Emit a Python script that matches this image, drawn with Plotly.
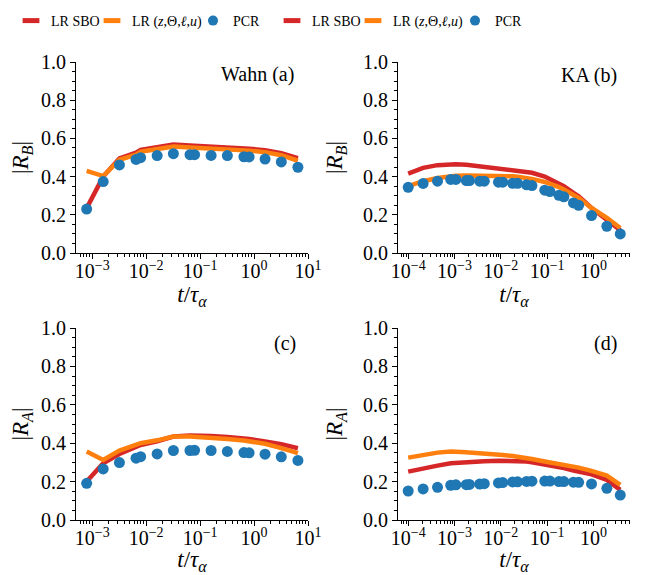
import plotly.graph_objects as go

# ---------------- data ----------------
t_wahn = [0.00079, 0.0016, 0.0032, 0.0065, 0.0079, 0.016, 0.032, 0.065, 0.079,
          0.16, 0.32, 0.65, 0.81, 1.6, 3.2, 6.5]
t_ka = [1.0e-4, 2.1e-4, 4.3e-4, 8.3e-4, 1.07e-3, 1.8e-3, 2.1e-3, 3.5e-3, 4.4e-3,
        8.9e-3, 1.1e-2, 1.8e-2, 2.3e-2, 3.6e-2, 4.7e-2, 8.9e-2, 0.115, 0.18, 0.23,
        0.37, 0.48, 0.91, 1.95, 3.8]

# panel (a): Wahn |R_B|
a_sbo = [0.235, 0.40, 0.495, 0.525, 0.54, 0.555, 0.568, 0.563, 0.562, 0.558, 0.553,
         0.548, 0.546, 0.538, 0.522, 0.497]
a_lr = [0.43, 0.403, 0.488, 0.515, 0.53, 0.545, 0.557, 0.553, 0.552, 0.548, 0.544,
        0.538, 0.536, 0.528, 0.512, 0.483]
a_pcr = [0.23, 0.374, 0.461, 0.49, 0.499, 0.51, 0.52, 0.515, 0.515, 0.511, 0.51,
         0.504, 0.503, 0.492, 0.477, 0.449]

# panel (b): KA |R_B|
b_sbo = [0.416, 0.446, 0.46, 0.465, 0.465, 0.462, 0.46, 0.455, 0.452, 0.446, 0.443,
         0.437, 0.434, 0.425, 0.42, 0.4, 0.388, 0.365, 0.35, 0.315, 0.297, 0.236,
         0.175, 0.119]
b_lr = [0.35, 0.376, 0.393, 0.402, 0.404, 0.406, 0.406, 0.407, 0.407, 0.406, 0.406,
        0.402, 0.399, 0.392, 0.388, 0.372, 0.364, 0.345, 0.332, 0.303, 0.288, 0.236,
        0.184, 0.131]
b_pcr = [0.344, 0.364, 0.376, 0.385, 0.385, 0.379, 0.379, 0.376, 0.376, 0.371, 0.371,
         0.365, 0.365, 0.357, 0.353, 0.329, 0.322, 0.302, 0.294, 0.262, 0.25, 0.196,
         0.14, 0.10]

# panel (c): Wahn |R_A|
c_sbo = [0.2, 0.296, 0.344, 0.385, 0.391, 0.41, 0.435, 0.44, 0.44, 0.437, 0.432,
         0.426, 0.422, 0.409, 0.395, 0.374]
c_lr = [0.357, 0.313, 0.362, 0.395, 0.4, 0.415, 0.435, 0.435, 0.434, 0.43, 0.422,
        0.414, 0.41, 0.397, 0.374, 0.348]
c_pcr = [0.191, 0.266, 0.299, 0.322, 0.33, 0.344, 0.362, 0.362, 0.363, 0.362, 0.357,
         0.351, 0.35, 0.343, 0.329, 0.31]

# panel (d): KA |R_A|
d_sbo = [0.252, 0.27, 0.283, 0.296, 0.298, 0.3, 0.301, 0.304, 0.306, 0.308, 0.308,
         0.308, 0.308, 0.305, 0.301, 0.29, 0.283, 0.275, 0.27, 0.258, 0.252, 0.238,
         0.209, 0.157]
d_lr = [0.325, 0.339, 0.351, 0.357, 0.357, 0.353, 0.351, 0.349, 0.348, 0.341, 0.339,
        0.333, 0.33, 0.322, 0.318, 0.305, 0.301, 0.292, 0.287, 0.278, 0.273, 0.256,
        0.231, 0.183]
d_pcr = [0.151, 0.162, 0.17, 0.181, 0.183, 0.184, 0.185, 0.187, 0.189, 0.193, 0.195,
         0.198, 0.199, 0.201, 0.202, 0.203, 0.203, 0.2, 0.2, 0.197, 0.196, 0.188,
         0.165, 0.13]

wahn_tickvals = [1e-3, 1e-2, 1e-1, 1e0, 1e1]
wahn_ticktext = ["10<sup>−3</sup>", "10<sup>−2</sup>", "10<sup>−1</sup>", "10<sup>0</sup>", "10<sup>1</sup>"]
ka_tickvals = [1e-4, 1e-3, 1e-2, 1e-1, 1e0]
ka_ticktext = ["10<sup>−4</sup>", "10<sup>−3</sup>", "10<sup>−2</sup>", "10<sup>−1</sup>", "10<sup>0</sup>"]
y_tickvals = [0.0, 0.2, 0.4, 0.6, 0.8, 1.0]

series_names = ["LR SBO", "LR (<i>z</i>,Θ,<i>ℓ</i>,<i>u</i>)", "PCR"]
panel_labels = ["Wahn (a)", "KA (b)", "(c)", "(d)"]
RED, ORANGE, BLUE = "#d62728", "#ff7f0e", "#1f77b4"

FONT = "Liberation Serif"
OFF = 8                      # page body margin
W, H = 646 - OFF, 575 - OFF


def px(xp):  # page pixel -> paper x
    return (xp - OFF) / W


def py(yp):  # page pixel -> paper y
    return 1 - (yp - OFF) / H


# minor tick positions for log axes (2..9 x 10^n)
minor_log = [k * 10.0 ** n for n in range(-5, 2) for k in range(2, 10)]

fig = go.Figure()

panels = [
    ("x", "y", t_wahn, a_sbo, a_lr, a_pcr),
    ("x2", "y2", t_ka, b_sbo, b_lr, b_pcr),
    ("x3", "y3", t_wahn, c_sbo, c_lr, c_pcr),
    ("x4", "y4", t_ka, d_sbo, d_lr, d_pcr),
]
for xa, ya, t, sbo, lr, pcr in panels:
    fig.add_trace(go.Scatter(x=t, y=sbo, mode="lines", name=series_names[0],
                             line=dict(color=RED, width=4.5), xaxis=xa, yaxis=ya,
                             showlegend=False))
    fig.add_trace(go.Scatter(x=t, y=lr, mode="lines", name=series_names[1],
                             line=dict(color=ORANGE, width=4.5), xaxis=xa, yaxis=ya,
                             showlegend=False))
    fig.add_trace(go.Scatter(x=t, y=pcr, mode="markers", name=series_names[2],
                             marker=dict(color=BLUE, size=11), xaxis=xa, yaxis=ya,
                             showlegend=False))

# legend entries (one legend per entry so they can sit where the reference has them)
legend_markers = [
    dict(symbol="line-ew", size=12, color=RED, line=dict(color=RED, width=5)),
    dict(symbol="line-ew", size=12, color=ORANGE, line=dict(color=ORANGE, width=5)),
    dict(symbol="circle", size=10, color=BLUE),
]
legend_symbol_centers = [31, 112, 213, 292, 373, 475]   # page px
legend_layout = {}
for col in range(2):
    for i in range(3):
        k = col * 3 + i
        lname = "legend" if k == 0 else f"legend{k + 1}"
        fig.add_trace(go.Scatter(x=[None], y=[None], mode="markers", name=series_names[i],
                                 marker=legend_markers[i], legend=lname, showlegend=True,
                                 xaxis="x" if col == 0 else "x2",
                                 yaxis="y" if col == 0 else "y2"))
        legend_layout[lname] = dict(orientation="h", x=px(legend_symbol_centers[k] - 20),
                                    y=py(21), xanchor="left", yanchor="middle",
                                    font=dict(family=FONT, size=14, color="black"),
                                    itemwidth=30, bgcolor="rgba(0,0,0,0)")

xdom_left = [px(76), px(308)]
xdom_right = [px(398), px(630)]
ydom_top = [py(253), py(62)]
ydom_bot = [py(520), py(328)]

tickfont = dict(family=FONT, size=20, color="black")
titlefont = dict(family=FONT, size=23, color="black")


def xaxis(dom, rng, vals, text, anchor):
    return dict(domain=dom, type="log", range=rng, tickvals=vals, ticktext=text,
                anchor=anchor, showline=True, linecolor="black", linewidth=1,
                ticks="outside", ticklen=5, tickcolor="black", showgrid=False,
                zeroline=False, tickfont=tickfont, ticklabelstandoff=-5,
                minor=dict(ticks="outside", ticklen=3, tickcolor="black", showgrid=False,
                           tickmode="array", tickvals=minor_log),
                title=dict(text="<i>t</i>/<i>τ</i><sub><i>α</i></sub>", font=titlefont, standoff=0))


def yaxis(dom, anchor, label):
    return dict(domain=dom, range=[0, 1.0], tickvals=y_tickvals, tickformat=".1f",
                anchor=anchor, showline=True, linecolor="black", linewidth=1,
                ticks="outside", ticklen=5, tickcolor="black", showgrid=False,
                zeroline=False, tickfont=tickfont,
                minor=dict(ticks="outside", ticklen=3, tickcolor="black", dtick=0.05,
                           showgrid=False),
                title=dict(text=label, font=titlefont, standoff=13))


RB = "|<i>R</i><sub><i>B</i></sub>|"
RA = "|<i>R</i><sub><i>A</i></sub>|"


def label(text, xp, yp):
    return dict(text=text, x=px(xp), y=py(yp), xref="paper", yref="paper",
                xanchor="center", yanchor="middle", showarrow=False,
                font=dict(family=FONT, size=20, color="black"))


fig.update_layout(
    width=W, height=H,
    margin=dict(l=0, r=0, t=0, b=0, autoexpand=False),
    paper_bgcolor="white", plot_bgcolor="white",
    font=dict(family=FONT, color="black"),
    xaxis=xaxis(xdom_left, [-3.3, 1.0], wahn_tickvals, wahn_ticktext, "y"),
    yaxis=yaxis(ydom_top, "x", RB),
    xaxis2=xaxis(xdom_right, [-4.22, 0.79], ka_tickvals, ka_ticktext, "y2"),
    yaxis2=yaxis(ydom_top, "x2", RB),
    xaxis3=xaxis(xdom_left, [-3.3, 1.0], wahn_tickvals, wahn_ticktext, "y3"),
    yaxis3=yaxis(ydom_bot, "x3", RA),
    xaxis4=xaxis(xdom_right, [-4.22, 0.79], ka_tickvals, ka_ticktext, "y4"),
    yaxis4=yaxis(ydom_bot, "x4", RA),
    annotations=[
        label(panel_labels[0], 257, 74),
        label(panel_labels[1], 589, 75),
        label(panel_labels[2], 285, 343),
        label(panel_labels[3], 605, 343),
    ],
    **legend_layout,
)

fig.write_html("out.html")
